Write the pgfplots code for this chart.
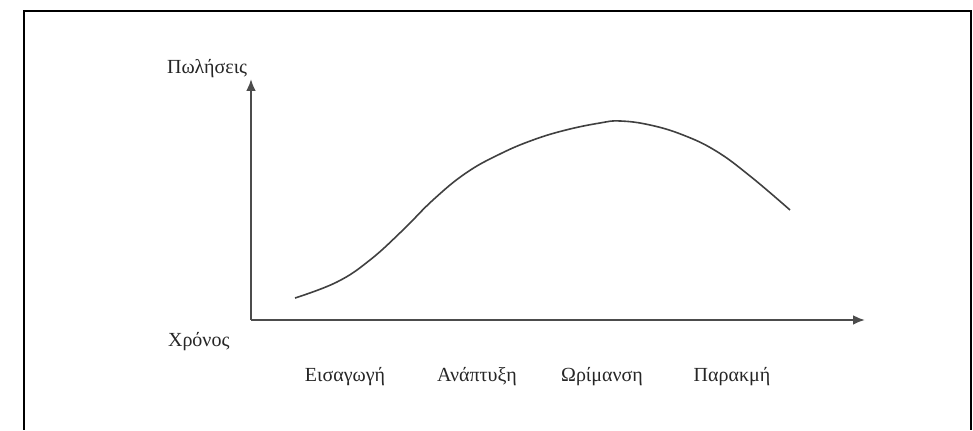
\documentclass[border=0pt]{standalone}
\usepackage{fontspec}
\setmainfont{Liberation Serif}
\usepackage{pgfplots}
\pgfplotsset{compat=1.18}
\usetikzlibrary{arrows.meta}
\begin{document}
\begin{tikzpicture}
\begin{axis}[
  scale only axis, width=307pt, height=120.5pt,
  xmin=251, xmax=865, ymin=0, ymax=241,
  axis lines=left,
  axis line style={line width=1.2pt, draw=black!70, -{Latex[length=6pt,width=5pt]}},
  ytick=\empty,
  xtick={345,477,602,732},
  xticklabels={Εισαγωγή, Ανάπτυξη, Ωρίμανση, Παρακμή},
  major tick length=0pt,
  xticklabel style={anchor=base, yshift=-31pt, font=\fontsize{10}{12}\selectfont, text=black!85},
  xlabel={Χρόνος}, ylabel={Πωλήσεις},
  every axis x label/.style={at={(axis cs:161,-27)}, anchor=base west, font=\fontsize{10}{12}\selectfont, text=black!85},
  every axis y label/.style={at={(axis cs:160,246)}, anchor=base west, font=\fontsize{10}{12}\selectfont, text=black!85},
  clip=false,
]
\addplot[smooth, tension=0.7, line width=0.8pt, draw=black!75] coordinates {
 (295,22) (337,38) (370,60) (403,90) (433,120) (466,147) (500,166) (533,180)
 (566,190) (600,197) (620,199) (650,195) (683,185) (716,169) (750,144) (790,110)
};
\draw[line width=1pt, black] (axis cs:24,-110) -- (axis cs:24,309) -- (axis cs:971,309) -- (axis cs:971,-110);
\coordinate (bl) at (axis cs:0,-110);
\coordinate (tr) at (axis cs:973,320);
\end{axis}
\useasboundingbox (bl) rectangle (tr);
\end{tikzpicture}
\end{document}
